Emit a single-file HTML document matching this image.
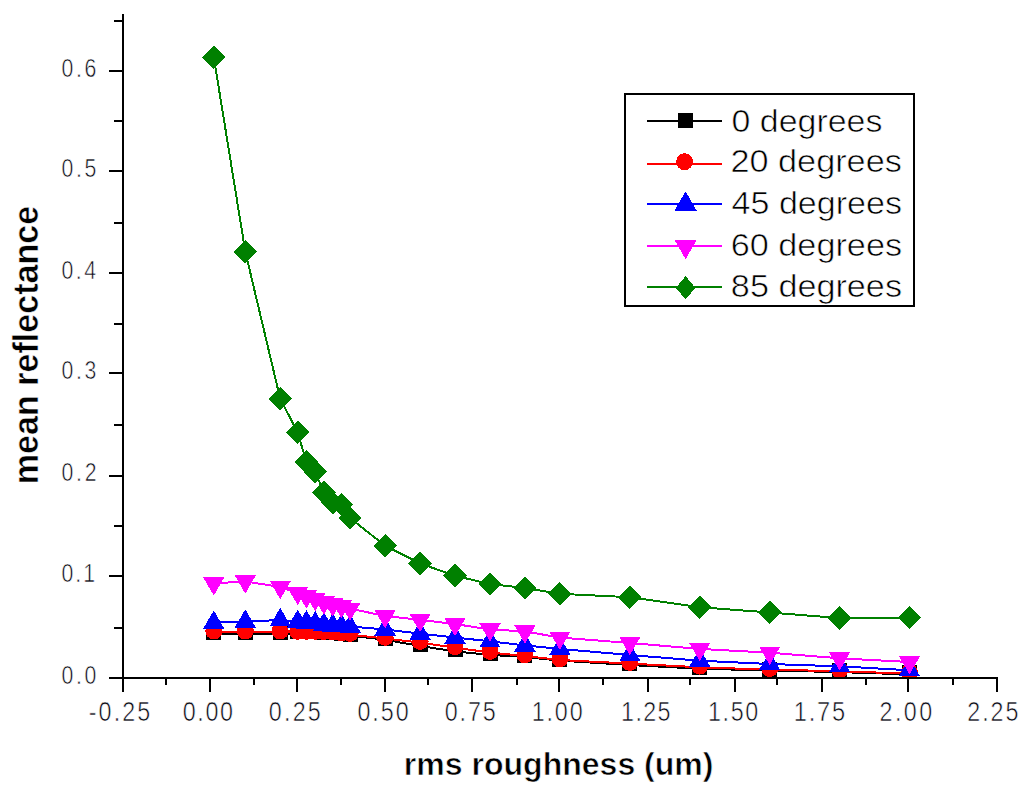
<!DOCTYPE html>
<html><head><meta charset="utf-8"><style>html,body{margin:0;padding:0;background:#fff;overflow:hidden}svg{display:block}</style></head>
<body><svg width="1024" height="790" viewBox="0 0 1024 790">
<rect width="1024" height="790" fill="#fff"/>
<defs><clipPath id="pa"><rect x="124" y="0" width="900" height="677"/></clipPath></defs>
<g clip-path="url(#pa)" shape-rendering="crispEdges">
<g fill="#000000" stroke="none"><polyline points="213.8,634.0 245.3,634.0 280.2,634.0 297.7,633.3 306.4,633.3 315.2,633.3 323.9,633.5 332.7,634.0 341.4,635.0 350.1,635.5 385.1,639.8 420.1,646.0 455.0,651.4 490.0,654.9 524.9,657.0 559.9,660.6 629.8,665.0 699.7,668.7 769.7,670.5 839.6,672.1 909.5,674.4" fill="none" stroke="#000000" stroke-width="2"/><rect x="206.3" y="625.0" width="15" height="15"/><rect x="237.8" y="625.0" width="15" height="15"/><rect x="272.7" y="625.0" width="15" height="15"/><rect x="290.2" y="624.3" width="15" height="15"/><rect x="298.9" y="624.3" width="15" height="15"/><rect x="307.7" y="624.3" width="15" height="15"/><rect x="316.4" y="624.5" width="15" height="15"/><rect x="325.2" y="625.0" width="15" height="15"/><rect x="333.9" y="626.0" width="15" height="15"/><rect x="342.6" y="626.5" width="15" height="15"/><rect x="377.6" y="630.8" width="15" height="15"/><rect x="412.6" y="637.0" width="15" height="15"/><rect x="447.5" y="642.4" width="15" height="15"/><rect x="482.5" y="645.9" width="15" height="15"/><rect x="517.4" y="648.0" width="15" height="15"/><rect x="552.4" y="651.6" width="15" height="15"/><rect x="622.3" y="656.0" width="15" height="15"/><rect x="692.2" y="659.7" width="15" height="15"/><rect x="762.2" y="661.5" width="15" height="15"/><rect x="832.1" y="663.1" width="15" height="15"/><rect x="902.0" y="665.4" width="15" height="15"/></g>
<g fill="#ff0000" stroke="none"><polyline points="213.8,632.2 245.3,632.2 280.2,632.2 297.7,632.5 306.4,632.5 315.2,632.5 323.9,632.7 332.7,633.2 341.4,634.2 350.1,634.6 385.1,638.5 420.1,642.6 455.0,647.7 490.0,652.5 524.9,656.0 559.9,660.0 629.8,663.6 699.7,667.3 769.7,669.7 839.6,671.2 909.5,673.7" fill="none" stroke="#ff0000" stroke-width="2"/><circle cx="213.8" cy="631.0" r="8.5"/><circle cx="245.3" cy="631.0" r="8.5"/><circle cx="280.2" cy="631.0" r="8.5"/><circle cx="297.7" cy="631.3" r="8.5"/><circle cx="306.4" cy="631.3" r="8.5"/><circle cx="315.2" cy="631.3" r="8.5"/><circle cx="323.9" cy="631.5" r="8.5"/><circle cx="332.7" cy="632.0" r="8.5"/><circle cx="341.4" cy="633.0" r="8.5"/><circle cx="350.1" cy="633.4" r="8.5"/><circle cx="385.1" cy="637.3" r="8.5"/><circle cx="420.1" cy="641.4" r="8.5"/><circle cx="455.0" cy="646.5" r="8.5"/><circle cx="490.0" cy="651.3" r="8.5"/><circle cx="524.9" cy="654.8" r="8.5"/><circle cx="559.9" cy="658.8" r="8.5"/><circle cx="629.8" cy="662.4" r="8.5"/><circle cx="699.7" cy="666.1" r="8.5"/><circle cx="769.7" cy="668.5" r="8.5"/><circle cx="839.6" cy="670.0" r="8.5"/><circle cx="909.5" cy="672.5" r="8.5"/></g>
<g fill="#0000ff" stroke="none"><polyline points="213.8,622.6 245.3,621.6 280.2,620.0 297.7,621.8 306.4,622.4 315.2,623.2 323.9,624.5 332.7,625.5 341.4,626.0 350.1,626.5 385.1,629.5 420.1,633.6 455.0,637.5 490.0,641.3 524.9,645.4 559.9,648.9 629.8,655.0 699.7,660.7 769.7,664.0 839.6,666.3 909.5,670.3" fill="none" stroke="#0000ff" stroke-width="2"/><polygon points="213.8,610.3 224.4,628.8 203.1,628.8"/><polygon points="245.3,609.3 255.9,627.8 234.6,627.8"/><polygon points="280.2,607.7 290.9,626.1 269.6,626.1"/><polygon points="297.7,609.5 308.4,627.9 287.0,627.9"/><polygon points="306.4,610.1 317.1,628.5 295.8,628.5"/><polygon points="315.2,610.9 325.8,629.4 304.5,629.4"/><polygon points="323.9,612.2 334.6,630.6 313.3,630.6"/><polygon points="332.7,613.2 343.3,631.6 322.0,631.6"/><polygon points="341.4,613.7 352.1,632.1 330.7,632.1"/><polygon points="350.1,614.2 360.8,632.6 339.5,632.6"/><polygon points="385.1,617.2 395.8,635.6 374.4,635.6"/><polygon points="420.1,621.3 430.7,639.8 409.4,639.8"/><polygon points="455.0,625.2 465.7,643.6 444.4,643.6"/><polygon points="490.0,629.0 500.6,647.4 479.3,647.4"/><polygon points="524.9,633.1 535.6,651.5 514.3,651.5"/><polygon points="559.9,636.6 570.6,655.0 549.2,655.0"/><polygon points="629.8,642.7 640.5,661.1 619.2,661.1"/><polygon points="699.7,648.4 710.4,666.9 689.1,666.9"/><polygon points="769.7,651.7 780.3,670.1 759.0,670.1"/><polygon points="839.6,654.0 850.2,672.4 828.9,672.4"/><polygon points="909.5,658.0 920.2,676.4 898.8,676.4"/></g>
<g fill="#ff00ff" stroke="none"><polyline points="213.8,583.4 245.3,581.4 280.2,587.0 297.7,592.9 306.4,596.4 315.2,599.0 323.9,602.5 332.7,604.5 341.4,606.0 350.1,608.6 385.1,616.0 420.1,619.9 455.0,624.0 490.0,629.5 524.9,631.4 559.9,637.6 629.8,643.0 699.7,648.9 769.7,652.7 839.6,658.3 909.5,662.0" fill="none" stroke="#ff00ff" stroke-width="2"/><polygon points="213.8,595.7 224.4,577.2 203.1,577.2"/><polygon points="245.3,593.7 255.9,575.2 234.6,575.2"/><polygon points="280.2,599.3 290.9,580.9 269.6,580.9"/><polygon points="297.7,605.2 308.4,586.8 287.0,586.8"/><polygon points="306.4,608.7 317.1,590.2 295.8,590.2"/><polygon points="315.2,611.3 325.8,592.9 304.5,592.9"/><polygon points="323.9,614.8 334.6,596.4 313.3,596.4"/><polygon points="332.7,616.8 343.3,598.4 322.0,598.4"/><polygon points="341.4,618.3 352.1,599.9 330.7,599.9"/><polygon points="350.1,620.9 360.8,602.5 339.5,602.5"/><polygon points="385.1,628.3 395.8,609.9 374.4,609.9"/><polygon points="420.1,632.2 430.7,613.8 409.4,613.8"/><polygon points="455.0,636.3 465.7,617.9 444.4,617.9"/><polygon points="490.0,641.8 500.6,623.4 479.3,623.4"/><polygon points="524.9,643.7 535.6,625.2 514.3,625.2"/><polygon points="559.9,649.9 570.6,631.5 549.2,631.5"/><polygon points="629.8,655.3 640.5,636.9 619.2,636.9"/><polygon points="699.7,661.2 710.4,642.8 689.1,642.8"/><polygon points="769.7,665.0 780.3,646.6 759.0,646.6"/><polygon points="839.6,670.6 850.2,652.1 828.9,652.1"/><polygon points="909.5,674.3 920.2,655.9 898.8,655.9"/></g>
<g fill="#008000" stroke="none"><polyline points="213.8,57.3 245.3,251.6 280.2,398.7 297.7,432.4 306.4,462.0 315.2,472.0 323.9,492.5 332.7,502.7 341.4,504.5 350.1,518.0 385.1,545.8 420.1,563.4 455.0,575.8 490.0,584.0 524.9,588.0 559.9,593.8 629.8,597.2 699.7,607.2 769.7,612.5 839.6,618.1 909.5,617.5" fill="none" stroke="#008000" stroke-width="2"/><polygon points="213.8,45.5 225.6,57.3 213.8,69.1 202.0,57.3"/><polygon points="245.3,239.8 257.1,251.6 245.3,263.4 233.5,251.6"/><polygon points="280.2,386.9 292.0,398.7 280.2,410.5 268.4,398.7"/><polygon points="297.7,420.6 309.5,432.4 297.7,444.2 285.9,432.4"/><polygon points="306.4,450.2 318.2,462.0 306.4,473.8 294.6,462.0"/><polygon points="315.2,460.2 327.0,472.0 315.2,483.8 303.4,472.0"/><polygon points="323.9,480.7 335.7,492.5 323.9,504.3 312.1,492.5"/><polygon points="332.7,490.9 344.5,502.7 332.7,514.5 320.9,502.7"/><polygon points="341.4,492.7 353.2,504.5 341.4,516.3 329.6,504.5"/><polygon points="350.1,506.2 361.9,518.0 350.1,529.8 338.3,518.0"/><polygon points="385.1,534.0 396.9,545.8 385.1,557.6 373.3,545.8"/><polygon points="420.1,551.6 431.9,563.4 420.1,575.2 408.3,563.4"/><polygon points="455.0,564.0 466.8,575.8 455.0,587.6 443.2,575.8"/><polygon points="490.0,572.2 501.8,584.0 490.0,595.8 478.2,584.0"/><polygon points="524.9,576.2 536.7,588.0 524.9,599.8 513.1,588.0"/><polygon points="559.9,582.0 571.7,593.8 559.9,605.6 548.1,593.8"/><polygon points="629.8,585.4 641.6,597.2 629.8,609.0 618.0,597.2"/><polygon points="699.7,595.4 711.5,607.2 699.7,619.0 687.9,607.2"/><polygon points="769.7,600.7 781.5,612.5 769.7,624.3 757.9,612.5"/><polygon points="839.6,606.3 851.4,618.1 839.6,629.9 827.8,618.1"/><polygon points="909.5,605.7 921.3,617.5 909.5,629.3 897.7,617.5"/></g>
</g>
<g stroke="#000" stroke-width="2" shape-rendering="crispEdges" fill="none">
<line x1="123" y1="14" x2="123" y2="692"/>
<line x1="122" y1="678" x2="996" y2="678"/>
<line x1="109" y1="678" x2="123" y2="678"/>
<line x1="114" y1="628" x2="123" y2="628"/>
<line x1="109" y1="576" x2="123" y2="576"/>
<line x1="114" y1="526" x2="123" y2="526"/>
<line x1="109" y1="476" x2="123" y2="476"/>
<line x1="114" y1="425" x2="123" y2="425"/>
<line x1="109" y1="373" x2="123" y2="373"/>
<line x1="114" y1="324" x2="123" y2="324"/>
<line x1="109" y1="273" x2="123" y2="273"/>
<line x1="114" y1="223" x2="123" y2="223"/>
<line x1="109" y1="171" x2="123" y2="171"/>
<line x1="114" y1="121" x2="123" y2="121"/>
<line x1="109" y1="71" x2="123" y2="71"/>
<line x1="114" y1="21" x2="123" y2="21"/>
<line x1="123" y1="677" x2="123" y2="692"/>
<line x1="166" y1="677" x2="166" y2="685"/>
<line x1="210" y1="677" x2="210" y2="692"/>
<line x1="254" y1="677" x2="254" y2="685"/>
<line x1="297" y1="677" x2="297" y2="692"/>
<line x1="341" y1="677" x2="341" y2="685"/>
<line x1="385" y1="677" x2="385" y2="692"/>
<line x1="428" y1="677" x2="428" y2="685"/>
<line x1="472" y1="677" x2="472" y2="692"/>
<line x1="517" y1="677" x2="517" y2="685"/>
<line x1="559" y1="677" x2="559" y2="692"/>
<line x1="603" y1="677" x2="603" y2="685"/>
<line x1="648" y1="677" x2="648" y2="692"/>
<line x1="690" y1="677" x2="690" y2="685"/>
<line x1="735" y1="677" x2="735" y2="692"/>
<line x1="777" y1="677" x2="777" y2="685"/>
<line x1="822" y1="677" x2="822" y2="692"/>
<line x1="866" y1="677" x2="866" y2="685"/>
<line x1="908" y1="677" x2="908" y2="692"/>
<line x1="953" y1="677" x2="953" y2="685"/>
<line x1="997" y1="677" x2="997" y2="692"/>
</g>
<text transform="translate(61.45,683.50) scale(0.8000,1)" font-family='"Liberation Sans", sans-serif' font-weight="normal" font-size="26.57" fill="#0a0a14" letter-spacing="3.35" stroke="#fff" stroke-width="0.6">0.0</text>
<text transform="translate(61.45,581.70) scale(0.8000,1)" font-family='"Liberation Sans", sans-serif' font-weight="normal" font-size="26.57" fill="#0a0a14" letter-spacing="2.54" stroke="#fff" stroke-width="0.6">0.1</text>
<text transform="translate(61.45,481.30) scale(0.8000,1)" font-family='"Liberation Sans", sans-serif' font-weight="normal" font-size="26.57" fill="#0a0a14" letter-spacing="3.48" stroke="#fff" stroke-width="0.6">0.2</text>
<text transform="translate(61.45,378.90) scale(0.8000,1)" font-family='"Liberation Sans", sans-serif' font-weight="normal" font-size="26.57" fill="#0a0a14" letter-spacing="3.41" stroke="#fff" stroke-width="0.6">0.3</text>
<text transform="translate(61.45,279.10) scale(0.8000,1)" font-family='"Liberation Sans", sans-serif' font-weight="normal" font-size="26.57" fill="#0a0a14" letter-spacing="3.21" stroke="#fff" stroke-width="0.6">0.4</text>
<text transform="translate(61.45,176.60) scale(0.8000,1)" font-family='"Liberation Sans", sans-serif' font-weight="normal" font-size="26.57" fill="#0a0a14" letter-spacing="3.35" stroke="#fff" stroke-width="0.6">0.5</text>
<text transform="translate(61.45,76.80) scale(0.8000,1)" font-family='"Liberation Sans", sans-serif' font-weight="normal" font-size="26.57" fill="#0a0a14" letter-spacing="3.41" stroke="#fff" stroke-width="0.6">0.6</text>
<text transform="translate(88.65,721.20) scale(0.8500,1)" font-family='"Liberation Sans", sans-serif' font-weight="normal" font-size="27.43" fill="#0a0a14" letter-spacing="2.51" stroke="#fff" stroke-width="0.6">-0.25</text>
<text transform="translate(182.77,721.20) scale(0.8500,1)" font-family='"Liberation Sans", sans-serif' font-weight="normal" font-size="27.43" fill="#0a0a14" letter-spacing="1.89" stroke="#fff" stroke-width="0.6">0.00</text>
<text transform="translate(268.87,721.20) scale(0.8500,1)" font-family='"Liberation Sans", sans-serif' font-weight="normal" font-size="27.43" fill="#0a0a14" letter-spacing="2.56" stroke="#fff" stroke-width="0.6">0.25</text>
<text transform="translate(357.47,721.20) scale(0.8500,1)" font-family='"Liberation Sans", sans-serif' font-weight="normal" font-size="27.43" fill="#0a0a14" letter-spacing="2.28" stroke="#fff" stroke-width="0.6">0.50</text>
<text transform="translate(444.67,721.20) scale(0.8500,1)" font-family='"Liberation Sans", sans-serif' font-weight="normal" font-size="27.43" fill="#0a0a14" letter-spacing="2.28" stroke="#fff" stroke-width="0.6">0.75</text>
<text transform="translate(531.75,721.20) scale(0.8500,1)" font-family='"Liberation Sans", sans-serif' font-weight="normal" font-size="27.43" fill="#0a0a14" letter-spacing="2.17" stroke="#fff" stroke-width="0.6">1.00</text>
<text transform="translate(621.05,721.20) scale(0.8500,1)" font-family='"Liberation Sans", sans-serif' font-weight="normal" font-size="27.43" fill="#0a0a14" letter-spacing="1.62" stroke="#fff" stroke-width="0.6">1.25</text>
<text transform="translate(707.95,721.20) scale(0.8500,1)" font-family='"Liberation Sans", sans-serif' font-weight="normal" font-size="27.43" fill="#0a0a14" letter-spacing="1.94" stroke="#fff" stroke-width="0.6">1.50</text>
<text transform="translate(793.63,721.20) scale(0.8500,1)" font-family='"Liberation Sans", sans-serif' font-weight="normal" font-size="27.83" fill="#0a0a14" letter-spacing="2.20" stroke="#fff" stroke-width="0.6">1.75</text>
<text transform="translate(879.53,721.20) scale(0.8500,1)" font-family='"Liberation Sans", sans-serif' font-weight="normal" font-size="27.43" fill="#0a0a14" letter-spacing="2.88" stroke="#fff" stroke-width="0.6">2.00</text>
<text transform="translate(967.33,721.20) scale(0.8500,1)" font-family='"Liberation Sans", sans-serif' font-weight="normal" font-size="27.43" fill="#0a0a14" letter-spacing="2.22" stroke="#fff" stroke-width="0.6">2.25</text>
<text transform="translate(403.82,774.70) scale(1.0462,1)" font-family='"Liberation Sans", sans-serif' font-weight="bold" font-size="30.62" fill="#000" stroke="#fff" stroke-width="0.6">rms roughness (um)</text>
<text transform="translate(37.7,484.21) rotate(-90) scale(0.9613,1)" font-family='"Liberation Sans", sans-serif' font-weight="bold" font-size="35.45" fill="#000" stroke="#fff" stroke-width="0.5">mean reflectance</text>
<rect x="625" y="94" width="289" height="212" fill="#fff" stroke="#000" stroke-width="2" shape-rendering="crispEdges"/>
<g fill="#000000" shape-rendering="crispEdges"><line x1="647" y1="121" x2="722" y2="121" stroke="#000000" stroke-width="2"/><rect x="678.0" y="112.7" width="15" height="15"/></g>
<text transform="translate(731.54,131.50) scale(1.0841,1)" font-family='"Liberation Sans", sans-serif' font-weight="normal" font-size="31.31" fill="#000" stroke="#fff" stroke-width="0.6">0 degrees</text>
<g fill="#ff0000" shape-rendering="crispEdges"><line x1="647" y1="164" x2="722" y2="164" stroke="#ff0000" stroke-width="2"/><circle cx="684.6" cy="161.7" r="8.5"/></g>
<text transform="translate(730.39,171.70) scale(1.0993,1)" font-family='"Liberation Sans", sans-serif' font-weight="normal" font-size="31.17" fill="#000" stroke="#fff" stroke-width="0.6">20 degrees</text>
<g fill="#0000ff" shape-rendering="crispEdges"><line x1="647" y1="204" x2="722" y2="204" stroke="#0000ff" stroke-width="2"/><polygon points="685.6,191.4 696.8,210.8 674.4,210.8"/></g>
<text transform="translate(731.55,214.30) scale(1.1128,1)" font-family='"Liberation Sans", sans-serif' font-weight="normal" font-size="30.62" fill="#000" stroke="#fff" stroke-width="0.6">45 degrees</text>
<g fill="#ff00ff" shape-rendering="crispEdges"><line x1="647" y1="246" x2="722" y2="246" stroke="#ff00ff" stroke-width="2"/><polygon points="685.6,259.1 696.8,239.8 674.4,239.8"/></g>
<text transform="translate(730.69,256.10) scale(1.1134,1)" font-family='"Liberation Sans", sans-serif' font-weight="normal" font-size="30.76" fill="#000" stroke="#fff" stroke-width="0.6">60 degrees</text>
<g fill="#008000" shape-rendering="crispEdges"><line x1="647" y1="287" x2="722" y2="287" stroke="#008000" stroke-width="2"/><polygon points="685.6,276.2 695.4,287.9 685.6,299.5 675.8,287.9"/></g>
<text transform="translate(730.86,297.30) scale(1.0927,1)" font-family='"Liberation Sans", sans-serif' font-weight="normal" font-size="31.31" fill="#000" stroke="#fff" stroke-width="0.6">85 degrees</text>
</svg>
</body></html>
